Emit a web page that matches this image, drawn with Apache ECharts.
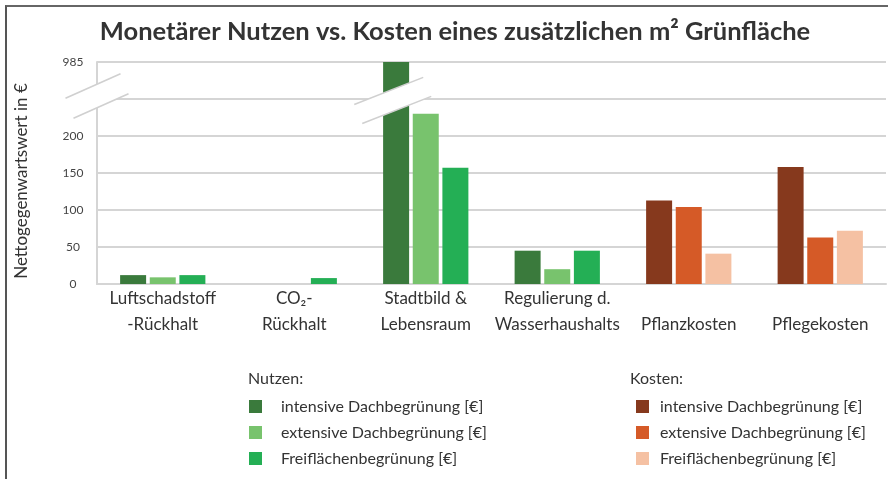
<!DOCTYPE html>
<html>
<head>
<meta charset="utf-8">
<script src="https://cdn.jsdelivr.net/npm/echarts@6/dist/echarts.min.js"></script>
<style>
html,body{margin:0;padding:0;background:#fff;}
#wrap{position:relative;width:888px;height:479px;overflow:hidden;}
#chart{position:absolute;left:0;top:0;width:888px;height:479px;}
#frame{position:absolute;left:5px;top:5px;width:900px;height:500px;border-top:2px solid #666;border-left:2px solid #555;pointer-events:none;}
</style>
</head>
<body>
<div id="wrap"><div id="chart"></div><div id="frame"></div></div>
<script>
// ---- data ----
const categories = ['Luftschadstoff\n-Rückhalt', 'CO₂-\nRückhalt', 'Stadtbild &\nLebensraum', 'Regulierung d.\nWasserhaushalts', '\nPflanzkosten', '\nPflegekosten'];
const nutzenIntensive = [12, null, 985, 45, null, null];
const nutzenExtensive = [9, null, 230, 20, null, null];
const nutzenFrei      = [12, 8, 157, 45, null, null];
const kostenIntensive = [null, null, null, null, 113, 158];
const kostenExtensive = [null, null, null, null, 104, 63];
const kostenFrei      = [null, null, null, null, 41, 72];
const yTickValues = [0, 50, 100, 150, 200, 250, 300];
const yTickLabels = ['0', '50', '100', '150', '200', '', '985'];
const seriesNamesNutzen = ['intensive Dachbegrünung [€]', 'extensive Dachbegrünung [€]', 'Freiflächenbegrünung [€]'];
const seriesNamesKosten = ['intensive Dachbegrünung [€]', 'extensive Dachbegrünung [€]', 'Freiflächenbegrünung [€]'];
const colorsNutzen = ['#3A7A3C', '#78C36D', '#24AF55'];
const colorsKosten = ['#86391D', '#D55A27', '#F5C1A3'];

const AXIS_TOP = 300; // broken axis: values above are drawn at the top
const FONT = 'Lato, "Open Sans", sans-serif';

function toBarData(arr) {
  return arr.map(v => v == null ? null : { value: Math.min(v, AXIS_TOP), realValue: v });
}

const chart = echarts.init(document.getElementById('chart'), null, { renderer: 'canvas' });

const nutzenData = [nutzenIntensive, nutzenExtensive, nutzenFrei];
const kostenData = [kostenIntensive, kostenExtensive, kostenFrei];
const series = [];
for (let i = 0; i < 3; i++) {
  series.push({
    name: 'N|' + seriesNamesNutzen[i], type: 'bar', stack: 's' + i,
    data: toBarData(nutzenData[i]), itemStyle: { color: colorsNutzen[i] },
    barWidth: 26, barGap: '14%'
  });
}
for (let i = 0; i < 3; i++) {
  series.push({
    name: 'K|' + seriesNamesKosten[i], type: 'bar', stack: 's' + i,
    data: toBarData(kostenData[i]), itemStyle: { color: colorsKosten[i] },
    barWidth: 26, barGap: '14%'
  });
}

const legendCommon = {
  orient: 'vertical', itemWidth: 13, itemHeight: 13, itemGap: 9, padding: 0,
  icon: 'rect', selectedMode: false,
  formatter: n => n.split('|')[1],
  textStyle: { fontFamily: FONT, fontSize: 16, color: '#333', lineHeight: 17 }
};

chart.setOption({
  animation: false,
  title: {
    text: 'Monetärer Nutzen vs. Kosten eines zusätzlichen m² Grünfläche',
    left: 450, top: 14, textAlign: 'center',
    textStyle: { fontFamily: FONT, fontSize: 25.5, fontWeight: 'bold', color: '#333' }
  },
  grid: { left: 97, right: 2, top: 62, bottom: 195, containLabel: false },
  legend: [
    Object.assign({}, legendCommon, { left: 249, top: 398, data: series.slice(0, 3).map(s => s.name),
      textStyle: Object.assign({}, legendCommon.textStyle, { padding: [0, 0, 0, 14] }) }),
    Object.assign({}, legendCommon, { left: 636, top: 398, data: series.slice(3).map(s => s.name),
      textStyle: Object.assign({}, legendCommon.textStyle, { padding: [0, 0, 0, 6] }) })
  ],
  xAxis: {
    type: 'category', data: categories,
    axisLine: { show: true, lineStyle: { color: '#d5d5d5', width: 2 } },
    axisTick: { show: false },
    axisLabel: { fontFamily: FONT, fontSize: 17, color: '#333', lineHeight: 26, margin: 2, interval: 0 }
  },
  yAxis: {
    type: 'value', min: 0, max: AXIS_TOP, interval: 50,
    name: 'Nettogegenwartswert in €', nameLocation: 'middle', nameGap: 67, nameRotate: 90,
    nameTextStyle: { fontFamily: FONT, fontSize: 17, color: '#333', padding: [0, 16, 0, 0] },
    axisLine: { show: true, lineStyle: { color: '#d5d5d5', width: 2 } },
    axisTick: { show: false },
    splitLine: { lineStyle: { color: '#d5d5d5', width: 2 } },
    axisLabel: {
      fontFamily: FONT, fontSize: 12, color: '#444', align: 'center', margin: 24,
      formatter: v => { const i = yTickValues.indexOf(v); return i >= 0 ? yTickLabels[i] : ''; }
    }
  },
  series: series
});

// break marks (decoration), positioned relative to the axis scales
function breakShape(cx, cy, hx, hy, ox, oy) {
  const u1 = [cx - ox - hx, cy - oy + hy], u2 = [cx - ox + hx, cy - oy - hy];
  const l1 = [cx + ox - hx, cy + oy + hy], l2 = [cx + ox + hx, cy + oy - hy];
  return [
    { type: 'polygon', z: 100, shape: { points: [u1, u2, l2, l1] }, style: { fill: '#fff' } },
    { type: 'line', z: 101, shape: { x1: u1[0], y1: u1[1], x2: u2[0], y2: u2[1] }, style: { stroke: '#d0d0d0', lineWidth: 1.6 } },
    { type: 'line', z: 101, shape: { x1: l1[0], y1: l1[1], x2: l2[0], y2: l2[1] }, style: { stroke: '#d0d0d0', lineWidth: 1.6 } }
  ];
}
const x0 = chart.convertToPixel({ xAxisIndex: 0 }, 0);
const x1 = chart.convertToPixel({ xAxisIndex: 0 }, 1);
const bandW = x1 - x0;
const axisX = x0 - bandW / 2;
const leftBreak = breakShape(axisX, chart.convertToPixel({ yAxisIndex: 0 }, 254), 27.5, 12.3, 4, 10);
const xs = chart.convertToPixel({ xAxisIndex: 0 }, 2);
const rightBreak = breakShape(xs - 33, chart.convertToPixel({ yAxisIndex: 0 }, 248), 34.5, 13.6, 4, 9.5);

const headers = [
  { type: 'text', left: 248, top: 371, z: 100, style: { text: 'Nutzen:', font: '16px ' + FONT, fill: '#333' } },
  { type: 'text', left: 630, top: 371, z: 100, style: { text: 'Kosten:', font: '16px ' + FONT, fill: '#333' } }
];
chart.setOption({ graphic: { elements: leftBreak.concat(rightBreak).concat(headers) } });
</script>
</body>
</html>
